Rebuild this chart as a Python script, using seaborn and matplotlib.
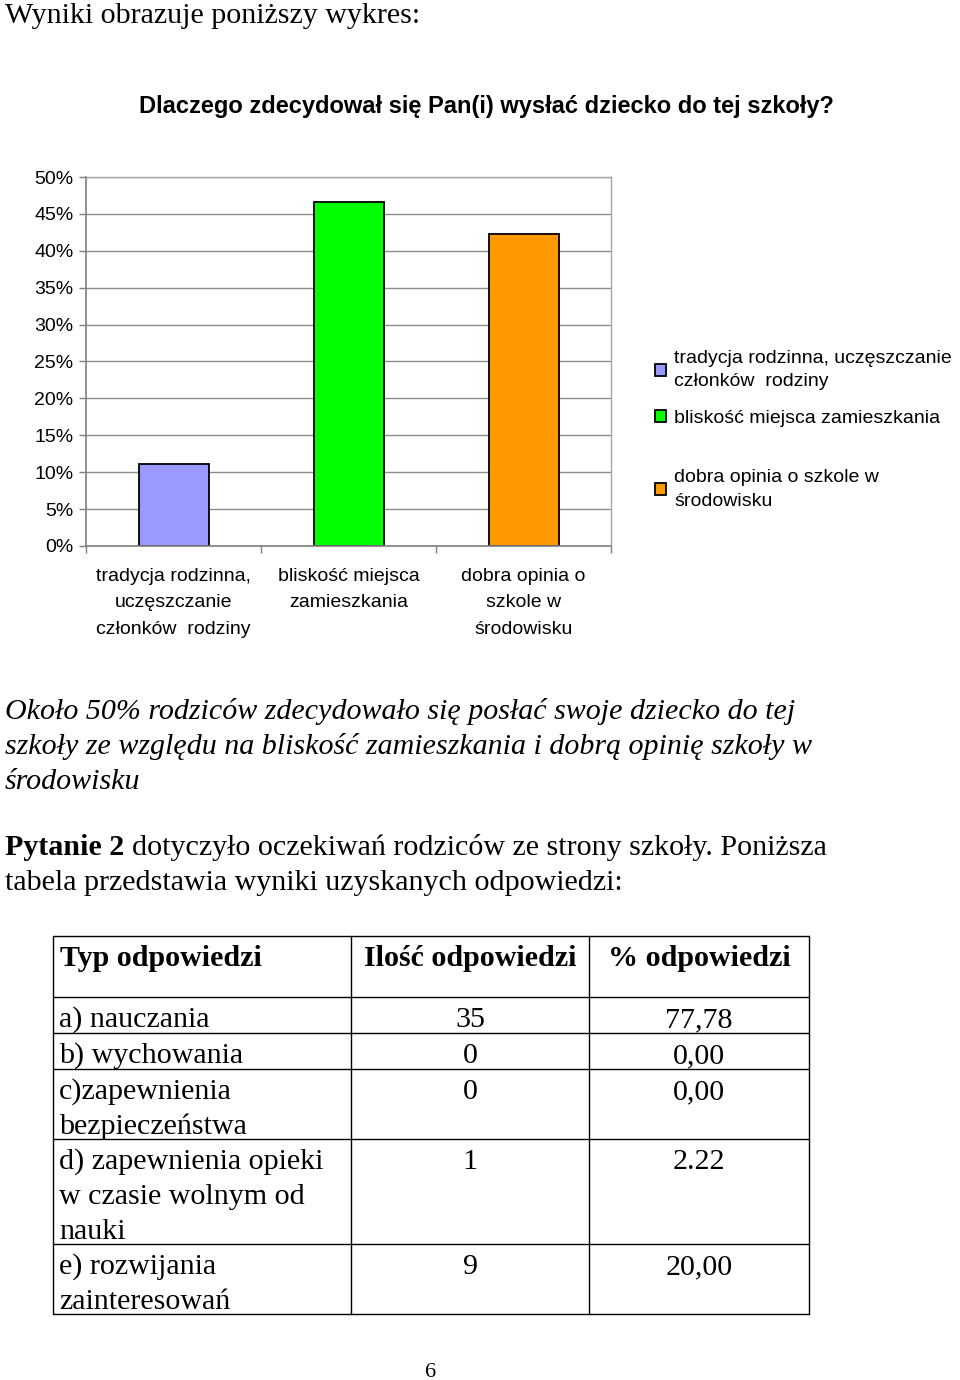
import matplotlib
matplotlib.use("Agg")
import matplotlib.pyplot as plt
import seaborn as sns
import pandas as pd
from matplotlib.lines import Line2D
from matplotlib.ticker import MultipleLocator, FuncFormatter

# ---------------- data ----------------
categories = ["tradycja rodzinna,\nuczęszczanie\nczłonków  rodziny",
              "bliskość miejsca\nzamieszkania",
              "dobra opinia o\nszkole w\nśrodowisku"]
legend_labels = ["tradycja rodzinna, uczęszczanie\nczłonków  rodziny",
                 "bliskość miejsca zamieszkania",
                 "dobra opinia o szkole w\nśrodowisku"]
values = [11.11, 46.67, 42.22]
colors = ["#9999FF", "#00FF00", "#FF9900"]
title = "Dlaczego zdecydował się Pan(i) wysłać dziecko do tej szkoły?"

table_header = ["Typ odpowiedzi", "Ilość odpowiedzi", "% odpowiedzi"]
table_types = ["a) nauczania", "b) wychowania", "c)zapewnienia\nbezpieczeństwa",
               "d) zapewnienia opieki\nw czasie wolnym od\nnauki",
               "e) rozwijania\nzainteresowań"]
table_counts = ["35", "0", "0", "1", "9"]
table_pct = ["77,78", "0,00", "0,00", "2.22", "20,00"]

intro_text = "Wyniki obrazuje poniższy wykres:"
summary_lines = ["Około 50% rodziców zdecydowało się posłać swoje dziecko do tej",
                 "szkoły ze względu na bliskość zamieszkania i dobrą opinię szkoły w",
                 "środowisku"]
q_bold = "Pytanie 2"
q_rest = ["dotyczyło oczekiwań rodziców ze strony szkoły. Poniższa",
          "tabela przedstawia wyniki uzyskanych odpowiedzi:"]
page_no = "6"

# ---------------- style ----------------
sns.set_theme(style="white")
plt.rcParams['font.family'] = ['Liberation Sans', 'DejaVu Sans']
plt.rcParams['text.color'] = 'black'
plt.rcParams['axes.labelcolor'] = 'black'
plt.rcParams['xtick.color'] = 'black'
plt.rcParams['ytick.color'] = 'black'
SERIF = ['Liberation Serif', 'DejaVu Serif']
W, H = 960, 1380
fx = lambda px: px / W
fy = lambda py: 1 - py / H

fig = plt.figure(figsize=(9.6, 13.8), dpi=100)
fig.patch.set_facecolor("white")

# ---------------- chart ----------------
ax = fig.add_axes([fx(86), fy(546), fx(611) - fx(86), fy(177) - fy(546)])
df = pd.DataFrame({"cat": categories, "val": values})
sns.barplot(data=df, x="cat", y="val", hue="cat", palette=colors, width=0.4,
            saturation=1, edgecolor="black", linewidth=1.3, ax=ax, legend=False)
ax.set_xlim(-0.5, 2.5)
ax.set_ylim(0, 50)
ax.yaxis.set_major_locator(MultipleLocator(5))
ax.yaxis.set_major_formatter(FuncFormatter(lambda v, p: f"{int(round(v))}%"))
ax.grid(axis="y", color="#8c8c8c", linewidth=1.0)
ax.grid(axis="x", visible=False)
ax.set_axisbelow(True)
ax.set_xlabel("")
ax.set_ylabel("")
ax.set_xticks(range(len(categories)))
ax.set_xticklabels(categories, fontsize=14, color="black", linespacing=1.75)
ax.set_xticks([-0.5, 0.5, 1.5, 2.5], minor=True)
ax.tick_params(axis="x", which="major", length=0, pad=15.5)
ax.tick_params(axis="x", which="minor", length=5, width=1, color="#7f7f7f",
               direction="out", bottom=True)
ax.tick_params(axis="y", which="major", length=5, width=1, color="#7f7f7f",
               direction="out", left=True, pad=4, labelsize=14,
               labelcolor="black")
for s in ["top", "right"]:
    ax.spines[s].set_color("#a6a6a6")
    ax.spines[s].set_linewidth(1.0)
for s in ["left", "bottom"]:
    ax.spines[s].set_color("#7f7f7f")
    ax.spines[s].set_linewidth(1.2)

fig.suptitle(title, x=fx(486), y=fy(113), ha="center", va="baseline",
             fontsize=17, fontweight="bold", color="black")

# legend (one entry per block, Excel-like spacing)
bars = ax.patches[:3]
legend_tops = [350, 410, 469]
for bar, lab, top in zip(bars, legend_labels, legend_tops):
    leg = fig.legend([bar], [lab], loc="upper left",
                     bbox_to_anchor=(fx(655), fy(top)), frameon=False,
                     borderpad=0, borderaxespad=0, handlelength=0.55,
                     handleheight=0.55, handletextpad=0.45,
                     fontsize=14, labelcolor="black")
    for t in leg.get_texts():
        t.set_linespacing(1.5)

# ---------------- document text ----------------
fig.text(fx(5), fy(23), intro_text, family=SERIF, fontsize=21.6,
         ha="left", va="baseline")
for i, line in enumerate(summary_lines):
    fig.text(fx(5), fy(719 + 35 * i), line, family=SERIF, fontsize=21.6,
             style="italic", ha="left", va="baseline")

renderer = fig.canvas.get_renderer()
tb = fig.text(fx(5), fy(855), q_bold, family=SERIF, fontsize=21.6,
              fontweight="bold", ha="left", va="baseline")
bb = tb.get_window_extent(renderer=renderer)
fig.text((bb.x1 + 8) / W, fy(855), q_rest[0], family=SERIF, fontsize=21.6,
         ha="left", va="baseline")
fig.text(fx(5), fy(890), q_rest[1], family=SERIF, fontsize=21.6,
         ha="left", va="baseline")

# ---------------- table ----------------
col_x = [53, 351, 589, 809]
row_y = [936, 997, 1033, 1069, 1139, 1244, 1314]
for y in row_y:
    fig.add_artist(Line2D([fx(col_x[0]), fx(col_x[-1])], [fy(y), fy(y)],
                          color="black", linewidth=1.0))
for x in col_x:
    fig.add_artist(Line2D([fx(x), fx(x)], [fy(row_y[0]), fy(row_y[-1])],
                          color="black", linewidth=1.0))

fig.text(fx(col_x[0] + 7), fy(row_y[0] + 30), table_header[0], family=SERIF,
         fontsize=21.6, fontweight="bold", ha="left", va="baseline")
for j in (1, 2):
    fig.text(fx((col_x[j] + col_x[j + 1]) / 2), fy(row_y[0] + 30),
             table_header[j], family=SERIF, fontsize=21.6, fontweight="bold",
             ha="center", va="baseline")

for i, (typ, cnt, pct) in enumerate(zip(table_types, table_counts, table_pct)):
    top = row_y[i + 1]
    for k, line in enumerate(typ.split("\n")):
        fig.text(fx(col_x[0] + 6), fy(top + 30 + 35 * k), line, family=SERIF,
                 fontsize=21.6, ha="left", va="baseline")
    fig.text(fx((col_x[1] + col_x[2]) / 2), fy(top + 30), cnt, family=SERIF,
             fontsize=21.6, ha="center", va="baseline")
    fig.text(fx((col_x[2] + col_x[3]) / 2), fy(top + 30), pct, family=SERIF,
             fontsize=21.6, ha="center", va="baseline")

fig.text(fx(431), fy(1377), page_no, family=SERIF, fontsize=16,
         ha="center", va="baseline")

fig.savefig("out.png", dpi=100, facecolor="white")
